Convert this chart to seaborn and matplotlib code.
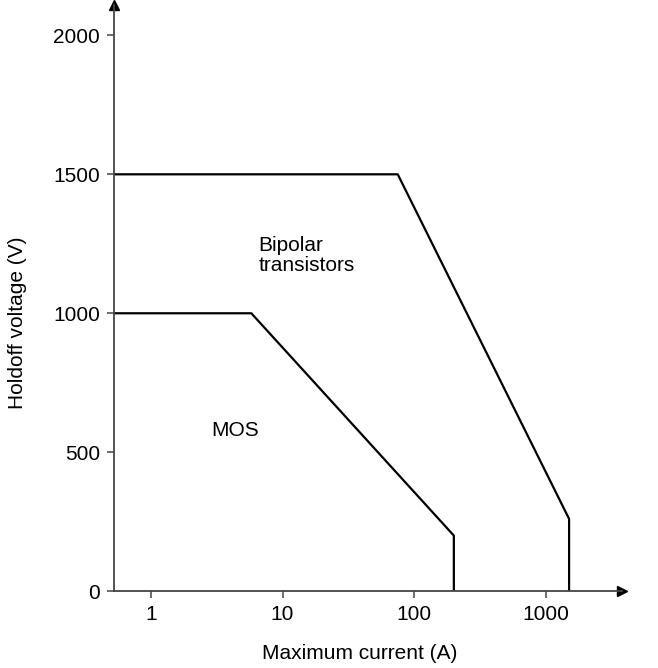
import numpy as np
import pandas as pd
import matplotlib
matplotlib.use("Agg")
import matplotlib.pyplot as plt
import seaborn as sns

# Data
bipolar_current = [0.5, 75, 1500, 1500]
bipolar_voltage = [1500, 1500, 260, 0]
mos_current = [0.5, 5.8, 200, 200]
mos_voltage = [1000, 1000, 200, 0]
x_ticks = [1, 10, 100, 1000]
x_tick_labels = ["1", "10", "100", "1000"]
y_ticks = [0, 500, 1000, 1500, 2000]

sns.set_theme(style="ticks")
plt.rcParams["font.family"] = ["Liberation Sans", "DejaVu Sans"]
plt.rcParams["text.color"] = "black"
plt.rcParams["axes.labelcolor"] = "black"

bipolar = pd.DataFrame({"current": bipolar_current, "voltage": bipolar_voltage})
mos = pd.DataFrame({"current": mos_current, "voltage": mos_voltage})

fig = plt.figure(figsize=(6.58, 6.68), dpi=100)
ax = fig.add_axes([0.173, 0.115, 0.772, 0.877])

sns.lineplot(data=bipolar, x="current", y="voltage", sort=False, estimator=None,
             color="black", linewidth=1.6, ax=ax)
sns.lineplot(data=mos, x="current", y="voltage", sort=False, estimator=None,
             color="black", linewidth=1.6, ax=ax)

ax.set_xscale("log")
ax.set_xlim(0.524, 3770)
ax.set_ylim(0, 2108)
ax.set_xticks(x_ticks)
ax.set_xticklabels(x_tick_labels)
ax.xaxis.set_minor_locator(matplotlib.ticker.NullLocator())
ax.set_yticks(y_ticks)

axis_col = "#444444"
for side in ["top", "right"]:
    ax.spines[side].set_visible(False)
for side in ["left", "bottom"]:
    ax.spines[side].set_color(axis_col)
    ax.spines[side].set_linewidth(1.3)
ax.tick_params(axis="both", direction="out", length=5, width=1.1, color=axis_col,
               labelsize=15, labelcolor="black", pad=5)

# arrow heads on the axes
ax.plot(1, 0, ">", color="black", markersize=7, transform=ax.transAxes, clip_on=False)
ax.plot(0, 1, "^", color="black", markersize=7, transform=ax.transAxes, clip_on=False)

ax.set_xlabel("Maximum current (A)", fontsize=15)
ax.set_ylabel("Holdoff voltage (V)", fontsize=15)
ax.xaxis.set_label_coords(0.484, -0.106)
ax.yaxis.set_label_coords(-0.19, 0.459)
ax.xaxis.label.set_va("center")
ax.yaxis.label.set_va("center")

ax.text(6.6, 1207, "Bipolar\ntransistors", fontsize=15, ha="left", va="center",
        linespacing=1.05)
ax.text(2.9, 577, "MOS", fontsize=15, ha="left", va="center")

fig.savefig("out.png", dpi=100)
